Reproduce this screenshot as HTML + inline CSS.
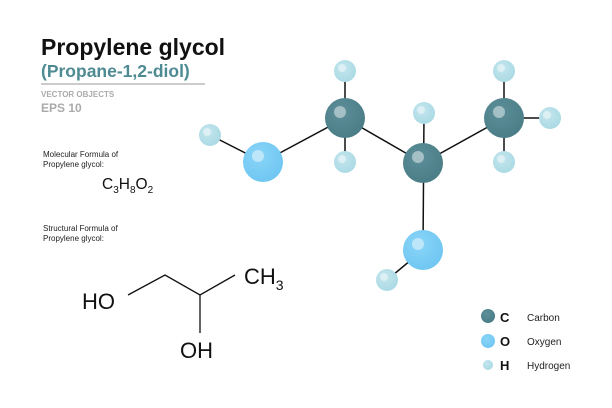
<!DOCTYPE html>
<html><head><style>
body{margin:0;width:612px;height:408px;background:#fff;overflow:hidden;font-family:"Liberation Sans",sans-serif}
</style></head><body>
<svg width="612" height="408" xmlns="http://www.w3.org/2000/svg" style="position:absolute;left:0;top:0">
<defs>
<radialGradient id="gc" cx="0.4" cy="0.35" r="0.7"><stop offset="0" stop-color="#5c8f99"/><stop offset="1" stop-color="#4a7c86"/></radialGradient>
<radialGradient id="go" cx="0.4" cy="0.35" r="0.7"><stop offset="0" stop-color="#8ad4f8"/><stop offset="1" stop-color="#6ec6f2"/></radialGradient>
<radialGradient id="gh" cx="0.4" cy="0.35" r="0.7"><stop offset="0" stop-color="#c4e6ee"/><stop offset="1" stop-color="#a9d9e4"/></radialGradient>
</defs>
<text x="41" y="55" font-size="23" font-weight="bold" fill="#111">Propylene glycol</text>
<text x="41" y="77" font-size="17.5" font-weight="bold" fill="#4d8a92">(Propane-1,2-diol)</text>
<line x1="41" y1="84" x2="205" y2="84" stroke="#999" stroke-width="1"/>
<text x="41" y="97" font-size="8" font-weight="bold" fill="#aaa">VECTOR OBJECTS</text>
<text x="41" y="112" font-size="12" font-weight="bold" fill="#aaa">EPS 10</text>
<text x="43" y="157" font-size="8" fill="#222">Molecular Formula of</text>
<text x="43" y="167" font-size="8" fill="#222">Propylene glycol:</text>
<text x="102" y="189" font-size="15.5" fill="#111">C<tspan font-size="10" dy="4">3</tspan><tspan dy="-4">H</tspan><tspan font-size="10" dy="4">8</tspan><tspan dy="-4">O</tspan><tspan font-size="10" dy="4">2</tspan></text>
<text x="43" y="231" font-size="8" fill="#222">Structural  Formula of</text>
<text x="43" y="241" font-size="8" fill="#222">Propylene glycol:</text>
<g stroke="#111" stroke-width="1.3" fill="none">
<polyline points="128,295 165,275 200,295 235,275"/><line x1="200" y1="295" x2="200" y2="333"/>
</g>
<text x="82" y="309" font-size="22" fill="#111">HO</text>
<text x="180" y="358" font-size="22" fill="#111">OH</text>
<text x="244" y="284" font-size="22" fill="#111">CH<tspan font-size="14" dy="6">3</tspan></text>
<g stroke="#111" stroke-width="1.5">
<line x1="210" y1="135" x2="263" y2="162"/><line x1="263" y1="162" x2="345" y2="118"/>
<line x1="345" y1="71" x2="345" y2="162"/><line x1="345" y1="118" x2="423" y2="163"/>
<line x1="424" y1="113" x2="423" y2="250"/><line x1="423" y1="163" x2="504" y2="118"/>
<line x1="504" y1="71" x2="504" y2="162"/><line x1="504" y1="118" x2="550" y2="118"/>
<line x1="423" y1="250" x2="387" y2="280"/>
</g>
<g>
<circle cx="210" cy="135" r="11" fill="url(#gh)"/><circle cx="345" cy="71" r="11" fill="url(#gh)"/>
<circle cx="345" cy="162" r="11" fill="url(#gh)"/><circle cx="424" cy="113" r="11" fill="url(#gh)"/>
<circle cx="504" cy="71" r="11" fill="url(#gh)"/><circle cx="504" cy="162" r="11" fill="url(#gh)"/>
<circle cx="550" cy="118" r="11" fill="url(#gh)"/><circle cx="387" cy="280" r="11" fill="url(#gh)"/>
<circle cx="345" cy="118" r="20" fill="url(#gc)"/><circle cx="423" cy="163" r="20" fill="url(#gc)"/>
<circle cx="504" cy="118" r="20" fill="url(#gc)"/>
<circle cx="263" cy="162" r="20" fill="url(#go)"/><circle cx="423" cy="250" r="20" fill="url(#go)"/>
</g>
<g fill="#fff" opacity="0.45">
<circle cx="340" cy="112" r="6"/><circle cx="418" cy="157" r="6"/><circle cx="499" cy="112" r="6"/>
<circle cx="258" cy="156" r="6"/><circle cx="418" cy="244" r="6"/>
<circle cx="207" cy="132" r="4"/><circle cx="342" cy="68" r="4"/><circle cx="342" cy="159" r="4"/><circle cx="421" cy="110" r="4"/>
<circle cx="501" cy="68" r="4"/><circle cx="501" cy="159" r="4"/><circle cx="547" cy="115" r="4"/><circle cx="384" cy="277" r="4"/>
</g>
<circle cx="488" cy="316" r="7" fill="url(#gc)"/><circle cx="488" cy="341" r="7" fill="url(#go)"/><circle cx="488" cy="365" r="5" fill="url(#gh)"/>
<text x="500" y="322" font-size="13" font-weight="bold" fill="#111">C</text>
<text x="500" y="346" font-size="13" font-weight="bold" fill="#111">O</text>
<text x="500" y="370" font-size="13" font-weight="bold" fill="#111">H</text>
<text x="527" y="321" font-size="10" fill="#222">Carbon</text>
<text x="527" y="345" font-size="10" fill="#222">Oxygen</text>
<text x="527" y="369" font-size="10" fill="#222">Hydrogen</text>
</svg>
</body></html>
